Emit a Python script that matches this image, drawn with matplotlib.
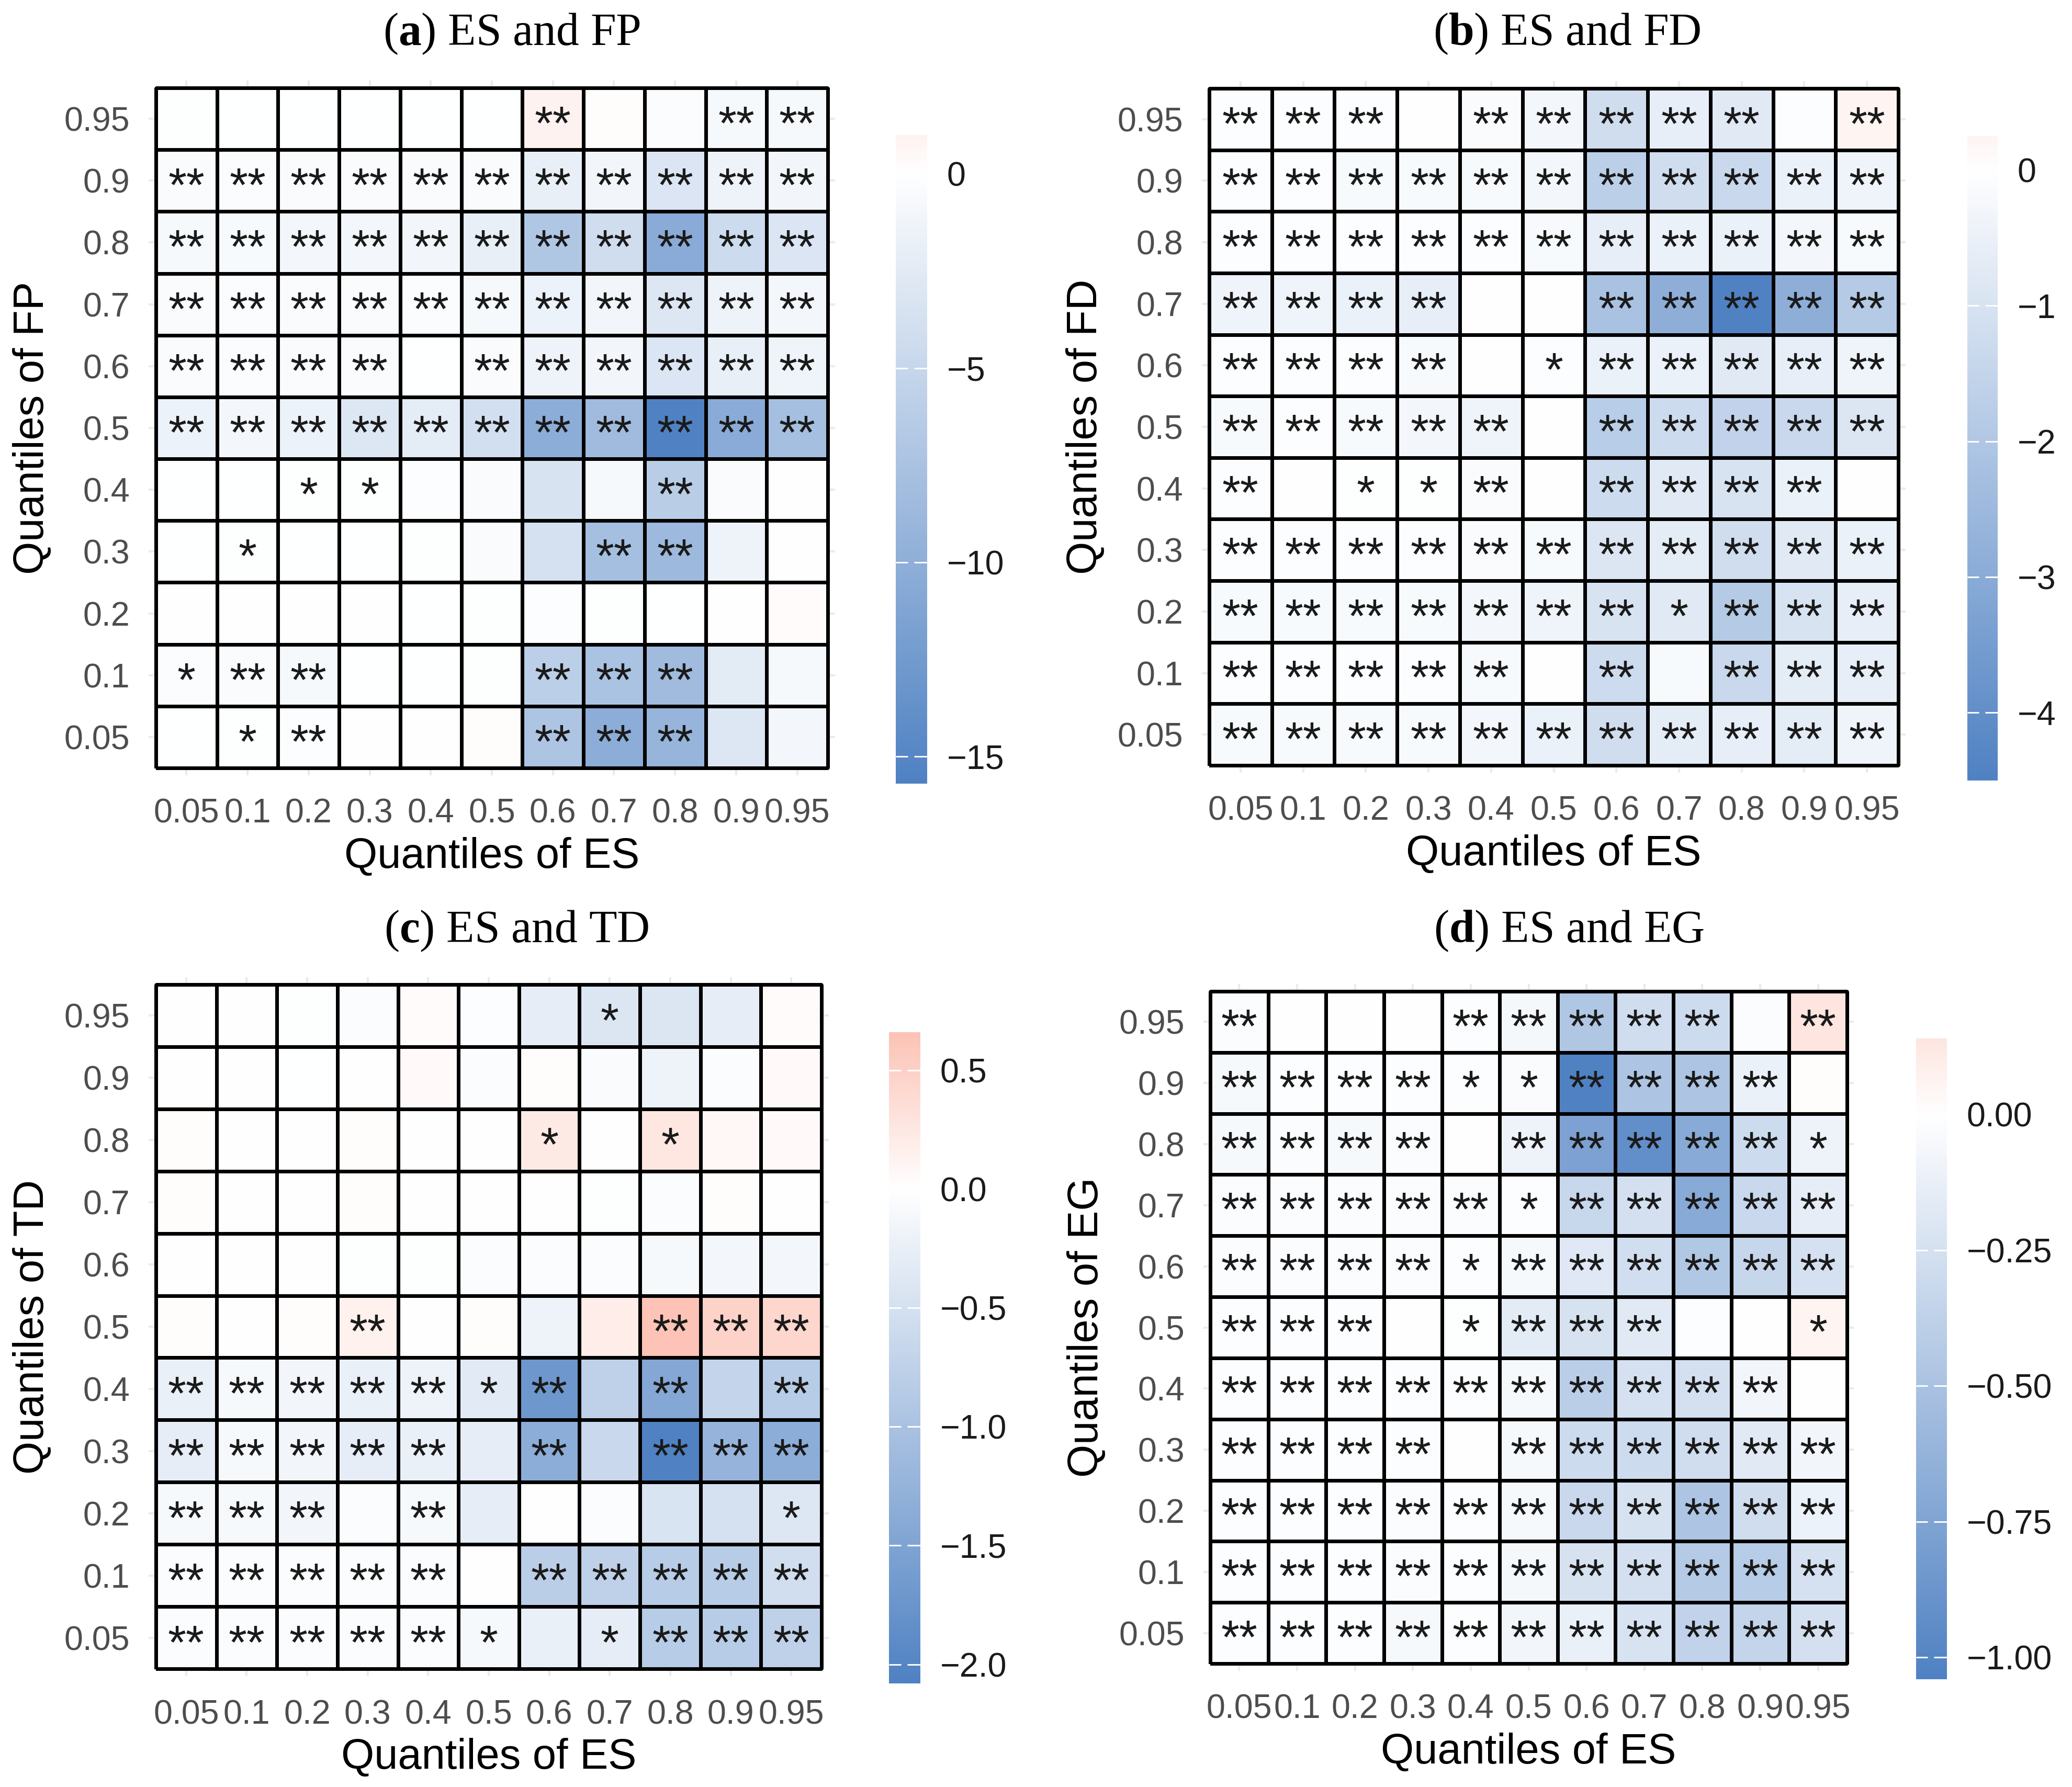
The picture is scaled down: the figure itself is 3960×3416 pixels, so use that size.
import numpy as np
import matplotlib
matplotlib.use("Agg")
import matplotlib.pyplot as plt
from matplotlib.colors import LinearSegmentedColormap, Normalize

plt.rcParams['font.family'] = ['Liberation Sans', 'DejaVu Sans']
plt.rcParams['mathtext.fontset'] = 'custom'
plt.rcParams['mathtext.rm'] = 'Liberation Serif'
plt.rcParams['mathtext.bf'] = 'Liberation Serif:bold'

# ---------------- data ----------------
quantiles = ["0.05", "0.1", "0.2", "0.3", "0.4", "0.5", "0.6", "0.7", "0.8", "0.9", "0.95"]

# rows listed from top (0.95) to bottom (0.05); columns 0.05 .. 0.95
fp_vals = [
    [-0.2, -0.1, -0.1, -0.1, -0.1, -0.1, 1.0, 0.2, -0.4, -0.8, -0.8],
    [-0.5, -0.4, -0.5, -0.5, -0.5, -0.6, -2.0, -1.2, -3.2, -1.5, -1.2],
    [-0.8, -0.7, -1.0, -1.0, -1.2, -2.0, -7.0, -4.2, -10.5, -4.5, -3.2],
    [-0.5, -0.4, -0.5, -0.5, -0.4, -0.8, -1.6, -1.2, -3.0, -1.5, -1.0],
    [-0.5, -0.4, -0.5, -0.5, -0.1, -0.6, -1.5, -1.2, -3.2, -2.0, -1.4],
    [-1.6, -1.0, -1.6, -3.0, -2.4, -4.0, -10.2, -8.5, -15.7, -10.5, -8.0],
    [-0.1, -0.1, -0.2, -0.2, -0.3, -0.5, -3.5, -0.8, -6.2, -0.5, 0.05],
    [-0.1, -0.2, -0.1, -0.1, -0.2, -0.5, -3.8, -8.0, -8.8, -1.5, 0.0],
    [0.0, 0.0, 0.0, 0.0, -0.1, -0.2, -0.3, -0.2, -0.1, 0.1, 0.3],
    [-0.4, -0.5, -0.8, -0.1, -0.1, -0.2, -6.0, -7.5, -8.5, -2.5, -0.8],
    [-0.1, -0.2, -0.3, 0.0, 0.0, 0.2, -7.3, -10.3, -9.3, -3.0, -1.0],
]
fp_sig = [
    [0, 0, 0, 0, 0, 0, 2, 0, 0, 2, 2],
    [2, 2, 2, 2, 2, 2, 2, 2, 2, 2, 2],
    [2, 2, 2, 2, 2, 2, 2, 2, 2, 2, 2],
    [2, 2, 2, 2, 2, 2, 2, 2, 2, 2, 2],
    [2, 2, 2, 2, 0, 2, 2, 2, 2, 2, 2],
    [2, 2, 2, 2, 2, 2, 2, 2, 2, 2, 2],
    [0, 0, 1, 1, 0, 0, 0, 0, 2, 0, 0],
    [0, 1, 0, 0, 0, 0, 0, 2, 2, 0, 0],
    [0, 0, 0, 0, 0, 0, 0, 0, 0, 0, 0],
    [1, 2, 2, 0, 0, 0, 2, 2, 2, 0, 0],
    [0, 1, 2, 0, 0, 0, 2, 2, 2, 0, 0],
]
fp_ticks = [0, -5, -10, -15]

fd_vals = [
    [-0.1, -0.1, -0.1, 0.0, -0.15, -0.3, -1.2, -0.6, -0.8, -0.1, 0.25],
    [-0.1, -0.1, -0.2, -0.2, -0.2, -0.3, -1.7, -1.2, -1.4, -0.5, -0.4],
    [-0.1, -0.1, -0.1, -0.1, -0.1, -0.2, -0.6, -0.5, -0.5, -0.3, -0.2],
    [-0.4, -0.4, -0.5, -0.6, 0.0, 0.0, -2.2, -2.9, -4.5, -2.9, -1.9],
    [-0.1, -0.1, -0.1, -0.2, 0.0, -0.1, -0.5, -0.5, -0.8, -0.6, -0.4],
    [-0.2, -0.1, -0.2, -0.3, -0.4, 0.0, -1.8, -1.3, -1.6, -1.4, -0.9],
    [-0.1, 0.0, -0.05, -0.05, -0.15, 0.0, -1.3, -0.8, -1.0, -0.5, 0.0],
    [-0.1, -0.1, -0.1, -0.1, -0.15, -0.2, -0.9, -0.7, -1.2, -0.8, -0.5],
    [-0.2, -0.2, -0.2, -0.2, -0.3, -0.4, -1.0, -0.8, -1.9, -1.0, -0.6],
    [-0.1, -0.1, -0.1, -0.1, -0.2, 0.0, -1.3, -0.2, -1.4, -0.7, -0.6],
    [-0.2, -0.2, -0.2, -0.2, -0.3, -0.5, -1.2, -0.7, -0.6, -0.7, -0.4],
]
fd_sig = [
    [2, 2, 2, 0, 2, 2, 2, 2, 2, 0, 2],
    [2, 2, 2, 2, 2, 2, 2, 2, 2, 2, 2],
    [2, 2, 2, 2, 2, 2, 2, 2, 2, 2, 2],
    [2, 2, 2, 2, 0, 0, 2, 2, 2, 2, 2],
    [2, 2, 2, 2, 0, 1, 2, 2, 2, 2, 2],
    [2, 2, 2, 2, 2, 0, 2, 2, 2, 2, 2],
    [2, 0, 1, 1, 2, 0, 2, 2, 2, 2, 0],
    [2, 2, 2, 2, 2, 2, 2, 2, 2, 2, 2],
    [2, 2, 2, 2, 2, 2, 2, 1, 2, 2, 2],
    [2, 2, 2, 2, 2, 0, 2, 0, 2, 2, 2],
    [2, 2, 2, 2, 2, 2, 2, 2, 2, 2, 2],
]
fd_ticks = [0, -1, -2, -3, -4]

td_vals = [
    [0.0, 0.0, -0.03, -0.05, 0.04, -0.04, -0.3, -0.42, -0.42, -0.3, 0.04],
    [0.0, 0.0, -0.01, 0.0, 0.05, -0.05, 0.02, -0.08, -0.2, -0.05, 0.05],
    [0.02, 0.0, 0.0, 0.02, 0.01, 0.0, 0.24, 0.0, 0.27, 0.08, 0.05],
    [0.02, 0.0, 0.0, 0.02, 0.0, 0.0, 0.0, -0.03, -0.05, 0.03, 0.0],
    [0.0, 0.0, 0.0, -0.02, -0.03, -0.05, -0.05, -0.06, -0.1, -0.14, -0.14],
    [0.02, 0.0, 0.02, 0.15, 0.0, 0.02, -0.2, 0.2, 0.66, 0.5, 0.45],
    [-0.25, -0.1, -0.15, -0.25, -0.2, -0.35, -1.72, -0.75, -1.45, -0.7, -0.85],
    [-0.3, -0.1, -0.15, -0.3, -0.25, -0.3, -1.35, -0.65, -2.08, -1.25, -1.35],
    [-0.1, -0.1, -0.15, -0.05, -0.1, -0.3, 0.0, -0.05, -0.45, -0.5, -0.4],
    [-0.05, -0.05, -0.05, -0.05, -0.05, 0.0, -0.8, -0.75, -0.85, -0.85, -0.55],
    [-0.05, -0.05, -0.05, -0.05, -0.05, -0.1, -0.25, -0.3, -0.85, -0.85, -0.75],
]
td_sig = [
    [0, 0, 0, 0, 0, 0, 0, 1, 0, 0, 0],
    [0, 0, 0, 0, 0, 0, 0, 0, 0, 0, 0],
    [0, 0, 0, 0, 0, 0, 1, 0, 1, 0, 0],
    [0, 0, 0, 0, 0, 0, 0, 0, 0, 0, 0],
    [0, 0, 0, 0, 0, 0, 0, 0, 0, 0, 0],
    [0, 0, 0, 2, 0, 0, 0, 0, 2, 2, 2],
    [2, 2, 2, 2, 2, 1, 2, 0, 2, 0, 2],
    [2, 2, 2, 2, 2, 0, 2, 0, 2, 2, 2],
    [2, 2, 2, 0, 2, 0, 0, 0, 0, 0, 1],
    [2, 2, 2, 2, 2, 0, 2, 2, 2, 2, 2],
    [2, 2, 2, 2, 2, 1, 0, 1, 2, 2, 2],
]
td_ticks = [0.5, 0.0, -0.5, -1.0, -1.5, -2.0]

eg_vals = [
    [-0.03, 0.0, 0.0, 0.0, -0.02, -0.06, -0.47, -0.28, -0.3, -0.03, 0.14],
    [-0.05, -0.02, -0.02, -0.02, -0.02, -0.04, -1.04, -0.48, -0.48, -0.12, 0.01],
    [-0.05, -0.03, -0.05, -0.03, 0.0, -0.1, -0.78, -0.93, -0.7, -0.3, -0.1],
    [-0.03, -0.03, -0.03, -0.03, -0.03, -0.02, -0.33, -0.26, -0.7, -0.32, -0.15],
    [-0.03, -0.03, -0.03, -0.03, -0.02, -0.05, -0.19, -0.27, -0.46, -0.34, -0.25],
    [-0.02, -0.02, -0.02, 0.0, -0.01, -0.17, -0.24, -0.18, -0.02, 0.0, 0.06],
    [-0.02, -0.02, -0.02, -0.02, -0.02, -0.05, -0.4, -0.25, -0.26, -0.08, 0.0],
    [-0.02, -0.02, -0.02, -0.02, 0.0, -0.05, -0.3, -0.3, -0.28, -0.18, -0.08],
    [-0.02, -0.02, -0.02, -0.03, -0.02, -0.05, -0.32, -0.24, -0.48, -0.28, -0.11],
    [-0.02, -0.02, -0.02, -0.03, -0.02, -0.06, -0.24, -0.26, -0.44, -0.43, -0.25],
    [-0.02, -0.02, -0.02, -0.05, -0.02, -0.08, -0.13, -0.23, -0.37, -0.35, -0.26],
]
eg_sig = [
    [2, 0, 0, 0, 2, 2, 2, 2, 2, 0, 2],
    [2, 2, 2, 2, 1, 1, 2, 2, 2, 2, 0],
    [2, 2, 2, 2, 0, 2, 2, 2, 2, 2, 1],
    [2, 2, 2, 2, 2, 1, 2, 2, 2, 2, 2],
    [2, 2, 2, 2, 1, 2, 2, 2, 2, 2, 2],
    [2, 2, 2, 0, 1, 2, 2, 2, 0, 0, 1],
    [2, 2, 2, 2, 2, 2, 2, 2, 2, 2, 0],
    [2, 2, 2, 2, 0, 2, 2, 2, 2, 2, 2],
    [2, 2, 2, 2, 2, 2, 2, 2, 2, 2, 2],
    [2, 2, 2, 2, 2, 2, 2, 2, 2, 2, 2],
    [2, 2, 2, 2, 2, 2, 2, 2, 2, 2, 2],
]
eg_ticks = [0.0, -0.25, -0.5, -0.75, -1.0]

# ---------------- layout / style ----------------
W, H = 3960, 3416
DPI = 300
LOW, HIGH = "#5082C3", "#F64318"
base_cmap = LinearSegmentedColormap.from_list("div", [LOW, "#FFFFFF", HIGH])
EXP = 0.12  # axis expansion (cells)

panels = [
    dict(tag="a", yname="FP", vals=fp_vals, sig=fp_sig, ticks=fp_ticks, fmt="{:g}",
         tiles=(298, 1582, 168, 1468), cbar=(1712, 1772, 258, 1498), title=(978, 65)),
    dict(tag="b", yname="FD", vals=fd_vals, sig=fd_sig, ticks=fd_ticks, fmt="{:g}",
         tiles=(2311, 3628, 169, 1463), cbar=(3760, 3818, 260, 1492), title=(2995, 65)),
    dict(tag="c", yname="TD", vals=td_vals, sig=td_sig, ticks=td_ticks, fmt="{:.1f}",
         tiles=(298, 1570, 1882, 3190), cbar=(1699, 1759, 1973, 3218), title=(987, 1780)),
    dict(tag="d", yname="EG", vals=eg_vals, sig=eg_sig, ticks=eg_ticks, fmt="{:.2f}",
         tiles=(2313, 3530, 1895, 3180), cbar=(3662, 3721, 1985, 3210), title=(2998, 1780)),
]

fig = plt.figure(figsize=(W / DPI, H / DPI), dpi=DPI)

for p in panels:
    Z = np.array(p["vals"], dtype=float)[::-1]   # row 0 -> quantile 0.05
    S = np.array(p["sig"])[::-1]
    n = len(quantiles)
    M = np.abs(Z).max()
    norm = Normalize(-M, M)
    dmin, dmax = Z.min(), Z.max()

    x0, x1, y0, y1 = p["tiles"]
    cw = (x1 - x0) / n
    ch = (y1 - y0) / n
    axl = x0 - EXP * cw
    axr = x1 + EXP * cw
    axt = y0 - EXP * ch
    axb = y1 + EXP * ch
    ax = fig.add_axes([axl / W, 1 - axb / H, (axr - axl) / W, (axb - axt) / H])
    edges = np.arange(n + 1) - 0.5
    ax.pcolormesh(edges, edges, Z, cmap=base_cmap, norm=norm,
                  edgecolors="black", linewidth=1.25, zorder=2)
    ax.set_xlim(-0.5 - EXP, n - 0.5 + EXP)
    ax.set_ylim(-0.5 - EXP, n - 0.5 + EXP)
    ax.set_xticks(range(n))
    ax.set_xticklabels(quantiles)
    ax.set_yticks(range(n))
    ax.set_yticklabels(quantiles)
    ax.grid(True, color="#EBEBEB", linewidth=1.0)
    ax.set_axisbelow(True)
    for s in ax.spines.values():
        s.set_visible(False)
    ax.tick_params(axis="both", length=0, labelsize=15.5, labelcolor="#4D4D4D")
    ax.tick_params(axis="x", pad=10.5)
    ax.tick_params(axis="y", pad=8.6)

    for i in range(n):
        for j in range(n):
            k = int(S[i, j])
            if k:
                ax.text(j, i - 0.33, "*" * k, ha="center", va="baseline",
                        fontsize=21.5, color="#1A1A1A", zorder=3)

    ax.set_xlabel("Quantiles of ES", fontsize=19.5, color="black")
    ax.xaxis.label.set_va("center")
    ax.xaxis.set_label_coords(0.5, -(170 - EXP * ch) / (axb - axt))
    ax.set_ylabel("Quantiles of " + p["yname"], fontsize=19.5, color="black")
    ax.yaxis.label.set_va("center")
    ax.yaxis.label.set_ha("center")
    ax.yaxis.set_label_coords(-(236 - EXP * cw) / (axr - axl), 0.5)

    # colour bar
    cx0, cx1, cy0, cy1 = p["cbar"]
    cax = fig.add_axes([cx0 / W, 1 - cy1 / H, (cx1 - cx0) / W, (cy1 - cy0) / H])
    grad = np.linspace(dmin, dmax, 512)[:, None]
    cax.imshow(grad, aspect="auto", cmap=base_cmap, norm=norm, origin="lower",
               extent=[0, 1, dmin, dmax], interpolation="bilinear")
    cax.set_xlim(0, 1)
    cax.set_ylim(dmin, dmax)
    cax.set_xticks([])
    cax.yaxis.tick_right()
    cax.set_yticks(p["ticks"])
    cax.set_yticklabels([p["fmt"].format(t).replace("-", "\u2212") for t in p["ticks"]])
    cax.tick_params(axis="y", length=0, pad=9, labelsize=15.5, labelcolor="#1A1A1A")
    for s in cax.spines.values():
        s.set_visible(False)
    cax.hlines(p["ticks"], 0, 0.38, colors="white", linewidth=0.7)
    cax.hlines(p["ticks"], 0.58, 1, colors="white", linewidth=0.7)

    tx, ty = p["title"]
    fig.text(tx / W, 1 - ty / H, r"($\mathbf{" + p["tag"] + r"}$) ES and " + p["yname"],
             ha="center", va="center", fontsize=21, family="Liberation Serif", color="black")

fig.savefig("out.png", dpi=DPI)
